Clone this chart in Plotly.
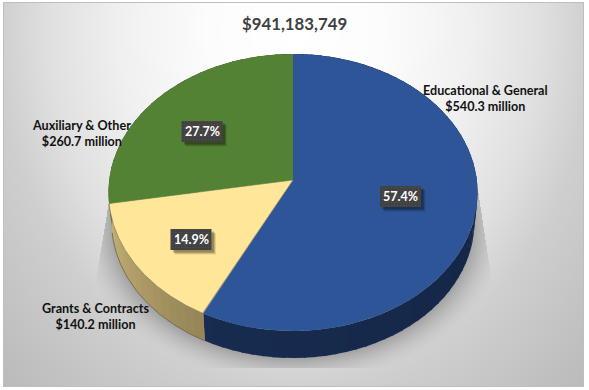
import numpy as np
import plotly.graph_objects as go

# ---- data ----
categories = ["Educational & General", "Grants & Contracts", "Auxiliary & Other"]
values_million = [540.3, 140.2, 260.7]
title_text = "$941,183,749"

# ---- style ----
top_colors = ["#2E5597", "#FFE699", "#548235"]
side_start = [(18, 34, 63), (150, 134, 88), (60, 90, 40)]
side_end = [(24, 44, 80), (198, 178, 118), (60, 90, 40)]
W, H = 589, 390
CX, CY, RX, RY, K = 293.0, 180.0, 183.8, 137.4, 0.09
DEPTH_SCALE, DEPTH = 0.983, 29.6


def rim(theta_deg, lower=False):
    t = np.radians(theta_deg)
    u, v = np.sin(t), np.cos(t)
    w = 1 + K * v
    dx, dy = RX * u / w, -RY * v / w
    if lower:
        return CX + DEPTH_SCALE * dx, CY + DEPTH_SCALE * dy + DEPTH
    return CX + dx, CY + dy


# ---- background raster (page gradient + soft shadow) ----
xx, yy = np.meshgrid(np.arange(W) + 0.5, np.arange(H) + 0.5)
d = np.sqrt(((xx - 295) / 295) ** 2 + ((yy - 30) / 360) ** 2)
bg = np.interp(d, [0, 0.3, 0.59, 0.83, 1.0, 1.4], [255, 252, 240, 224, 207, 186])
e = np.sqrt(((xx - CX) / (181.5)) ** 2 + ((yy - 222) / 136) ** 2) - 1
dist = np.clip(e * 150, 0, None)
dark = 0.25 * np.clip(1 - dist / 30, 0, 1) ** 1.7
wl = 110 - 13 * (yy - 195) / 80
wr = 478 + 11 * (yy - 190) / 73
mask = (xx > wl) & (xx < wr) & (yy < 368) & (yy > 192)
bg = bg * (1 - dark * mask)
frame = (xx >= 3) & (xx <= 584) & (yy >= 2) & (yy <= 387)
inner = (xx >= 4) & (xx <= 583) & (yy >= 3) & (yy <= 386)
z = np.where(inner, bg, np.where(frame, 190, 255)).astype("float32")

fig = go.Figure()
fig.add_trace(go.Heatmap(z=z, x0=0.5, dx=1, y0=0.5, dy=1, zmin=0, zmax=255,
                         colorscale=[[0, "#000000"], [1, "#FFFFFF"]],
                         showscale=False, hoverinfo="skip"))

# ---- slices ----
total = sum(values_million)
shares = [v / total for v in values_million]
edges = np.cumsum([0] + shares) * 360


def add_poly(xs, ys, color, line=None):
    fig.add_trace(go.Scatter(x=xs, y=ys, mode="lines", fill="toself", fillcolor=color,
                             line=dict(width=0.6 if line else 0, color=line or color),
                             hoverinfo="skip", showlegend=False))


# sides first
for i in range(len(values_million)):
    n = max(2, int((edges[i + 1] - edges[i]) / 3))
    steps = np.linspace(edges[i], edges[i + 1], n + 1)
    for j in range(n):
        f = j / max(1, n - 1)
        c = [int(a + (b - a) * f) for a, b in zip(side_start[i], side_end[i])]
        a0, a1 = steps[j], min(steps[j + 1] + 0.6, edges[i + 1])
        th = np.linspace(a0, a1, 4)
        ux, uy = rim(th)
        lx, ly = rim(th, lower=True)
        add_poly(np.r_[ux, lx[::-1]].tolist(), np.r_[uy, ly[::-1]].tolist(), f"rgb({c[0]},{c[1]},{c[2]})")
    th = np.linspace(edges[i], edges[i + 1], 120)
    lx, ly = rim(th, lower=True)
    if i == 1:
        fig.add_trace(go.Scatter(x=lx.tolist(), y=ly.tolist(), mode="lines",
                                 line=dict(width=0.8, color="#6b6248"),
                                 hoverinfo="skip", showlegend=False))

# top faces
for i in range(len(values_million)):
    th = np.linspace(edges[i], edges[i + 1], 240)
    rx_, ry_ = rim(th)
    add_poly(np.r_[CX, rx_, CX].tolist(), np.r_[CY, ry_, CY].tolist(), top_colors[i],
             line="#7d7550" if i == 1 else None)

# ---- percent boxes ----
box_centers = [(400.5, 196.5), (191, 239.5), (202, 131.5)]
box_w, box_h = 41, 21
for (bx, by) in box_centers:
    for off, alpha in ((4.5, 0.10), (3.5, 0.16), (2.5, 0.22)):
        x0, x1 = bx - box_w / 2 + off, bx + box_w / 2 + off
        y0, y1 = by - box_h / 2 + off, by + box_h / 2 + off
        add_poly([x0, x1, x1, x0, x0], [y0, y0, y1, y1, y0], f"rgba(0,0,0,{alpha})")
    x0, x1, y0, y1 = bx - box_w / 2, bx + box_w / 2, by - box_h / 2, by + box_h / 2
    fig.add_trace(go.Scatter(x=[x0, x1, x1, x0, x0], y=[y0, y0, y1, y1, y0], mode="lines",
                             fill="toself", line=dict(width=0), hoverinfo="skip", showlegend=False,
                             fillcolor="#404040",
                             fillpattern=dict(shape=".", size=3, solidity=0.25,
                                              fgcolor="#5c5c5c", bgcolor="#404040")))

FONT = "Lato"
for (bx, by), s in zip(box_centers, shares):
    fig.add_annotation(x=bx, y=by, text=f"<b>{s * 100:.1f}%</b>", showarrow=False,
                       font=dict(family=FONT, size=12.5, color="#FFFFFF"))

label_pos = [(485.5, 98.5), (95.5, 316), (81, 133)]
for (lx, ly), cat, v in zip(label_pos, categories, values_million):
    fig.add_annotation(x=lx, y=ly, text=f"<b>{cat}<br>${v:.1f} million</b>", showarrow=False,
                       font=dict(family=FONT, size=12.6, color="#111111"), align="center")

fig.add_annotation(x=294, y=23, text=f"<b>{title_text}</b>", showarrow=False,
                   font=dict(family=FONT, size=16.8, color="#404040"))

fig.update_layout(width=W, height=H, margin=dict(l=0, r=0, t=0, b=0),
                  paper_bgcolor="white", plot_bgcolor="white", showlegend=False,
                  xaxis=dict(range=[0, W], visible=False, fixedrange=True),
                  yaxis=dict(range=[H, 0], visible=False, fixedrange=True))
fig.write_html("out.html", include_plotlyjs=True, config={"displayModeBar": False},
               post_script="document.body.style.margin='0';")
